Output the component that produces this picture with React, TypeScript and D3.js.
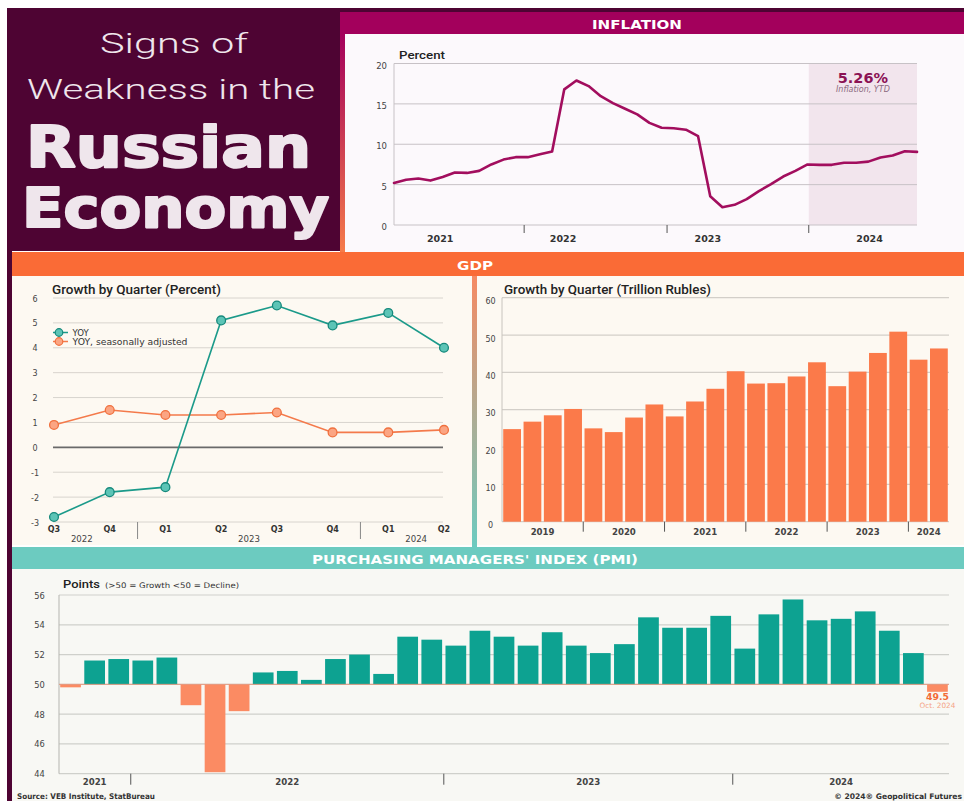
import React from 'react';
import * as d3 from 'd3';

// ---------- DATA ----------
// Inflation, monthly Jan 2021 – Aug 2024 (percent, YoY)
const inflationValues = [
  5.2, 5.6, 5.75, 5.5, 5.95, 6.5, 6.45, 6.7, 7.5, 8.1, 8.4, 8.4,
  8.75, 9.1, 16.8, 17.9, 17.2, 15.95, 15.1, 14.4, 13.7, 12.65, 12.05, 11.98,
  11.8, 11.0, 3.55, 2.2, 2.5, 3.2, 4.2, 5.05, 6.0, 6.7, 7.5, 7.45,
  7.45, 7.7, 7.7, 7.85, 8.35, 8.6, 9.13, 9.05,
];
const inflationTicks = [0, 5, 10, 15, 20];
// year boundaries / labels expressed in month-index units of the series
const inflationYearBoundaries = [10.7, 22.45, 34.1];
const inflationYearLabels = ['2021', '2022', '2023', '2024'];
const inflationYearLabelAt = [3.8, 13.9, 25.8, 39.1];
const inflationYtd = '5.26%';

// GDP growth by quarter (percent)
const gdpQuarters = ['Q3', 'Q4', 'Q1', 'Q2', 'Q3', 'Q4', 'Q1', 'Q2'];
const gdpQuarterYear = ['2022', '2022', '2023', '2023', '2023', '2023', '2024', '2024'];
const gdpYoy = [-2.8, -1.8, -1.6, 5.1, 5.7, 4.9, 5.4, 4.0];
const gdpYoySa = [0.9, 1.5, 1.3, 1.3, 1.4, 0.6, 0.6, 0.7];
const gdpGrowthTicks = [-3, -2, -1, 0, 1, 2, 3, 4, 5, 6];

// GDP by quarter (trillion rubles), 2019 Q1 – 2024 Q2
const gdpNominal = [
  24.8, 26.8, 28.5, 30.2,
  25.0, 24.0, 27.9, 31.4,
  28.2, 32.2, 35.6, 40.3,
  37.0, 37.1, 38.9, 42.7,
  36.3, 40.2, 45.2, 50.9,
  43.4, 46.4,
];
const gdpNominalYears = ['2019', '2020', '2021', '2022', '2023', '2024'];
const gdpNominalYearCounts = [4, 4, 4, 4, 4, 2];
const gdpNominalTicks = [0, 10, 20, 30, 40, 50, 60];

// PMI monthly
const pmiValues = [
  49.8, 51.6, 51.7, 51.6, 51.8, 48.6, 44.1, 48.2, 50.8, 50.9, 50.3, 51.7,
  52.0, 50.7, 53.2, 53.0, 52.6, 53.6, 53.2, 52.6, 53.5, 52.6, 52.1, 52.7,
  54.5, 53.8, 53.8, 54.6, 52.4, 54.7, 55.7, 54.3, 54.4, 54.9, 53.6, 52.1,
  49.5,
];
const pmiYears = ['2021', '2022', '2023', '2024'];
const pmiYearCounts = [3, 13, 12, 9];
const pmiTicks = [44, 46, 48, 50, 52, 54, 56];

// ---------- COLORS ----------
const MAROON = '#4e0433';
const MAGENTA = '#a3005c';
const INF_LINE = '#a20e5e';
const ORANGE_HDR = '#fa6b36';
const GDP_BAR = '#fb7a4a';
const TEAL_HDR = '#6ccbc0';
const TEAL = '#0da291';
const PMI_NEG = '#fb8b63';
const TITLE_TXT = '#efe6ec';

const NUM_FONT = 'DejaVu Sans';

function groupRanges(counts: number[]) {
  const out: { start: number; end: number }[] = [];
  let s = 0;
  counts.forEach((c) => {
    out.push({ start: s, end: s + c - 1 });
    s += c;
  });
  return out;
}

export default function App() {
  // ----- Inflation scales
  const infX = d3.scaleLinear().domain([0, inflationValues.length - 1]).range([394, 917]);
  const infY = d3.scaleLinear().domain([0, 20]).range([225, 63.5]);
  const infLine = d3
    .line<number>()
    .x((_, i) => infX(i))
    .y((d) => infY(d));
  const shadeX0 = infX(inflationYearBoundaries[2]);
  const shadeX1 = infX(inflationValues.length - 1);

  // ----- GDP growth scales
  const gX = d3
    .scalePoint<number>()
    .domain(gdpQuarters.map((_, i) => i))
    .range([54, 444]);
  const gY = d3.scaleLinear().domain([-3, 6]).range([522, 298]);
  const gLine = d3
    .line<number>()
    .x((_, i) => gX(i) as number)
    .y((d) => gY(d));
  const gYears: { year: string; first: number; last: number }[] = [];
  gdpQuarterYear.forEach((y, i) => {
    const last = gYears[gYears.length - 1];
    if (last && last.year === y) last.last = i;
    else gYears.push({ year: y, first: i, last: i });
  });

  // ----- GDP nominal scales
  const nX = d3
    .scaleBand<number>()
    .domain(gdpNominal.map((_, i) => i))
    .range([502, 949])
    .paddingInner(0.125)
    .paddingOuter(0.06);
  const nY = d3.scaleLinear().domain([0, 60]).range([521.7, 297.7]);
  const nGroups = groupRanges(gdpNominalYearCounts);

  // ----- PMI scales
  const pX = d3
    .scaleBand<number>()
    .domain(pmiValues.map((_, i) => i))
    .range([59, 949])
    .paddingInner(0.14)
    .paddingOuter(0.05);
  const pY = d3.scaleLinear().domain([44, 56]).range([773.7, 595]);
  const pGroups = groupRanges(pmiYearCounts);
  const lastI = pmiValues.length - 1;

  return (
    <div style={{ position: 'absolute', left: 0, top: 0, width: 964, height: 801, background: '#fff' }}>
      <svg width={964} height={801} style={{ display: 'block' }} fontFamily={NUM_FONT}>
        <defs>
          <linearGradient id="infEdge" x1="0" y1="0" x2="0" y2="1">
            <stop offset="0" stopColor={MAGENTA} />
            <stop offset="1" stopColor="#f67c4a" />
          </linearGradient>
          <linearGradient id="gdpEdge" x1="0" y1="0" x2="0" y2="1">
            <stop offset="0" stopColor="#f68a63" />
            <stop offset="1" stopColor={TEAL_HDR} />
          </linearGradient>
        </defs>

        {/* ================= TITLE BLOCK ================= */}
        <rect x={7} y={8} width={333} height={243} fill={MAROON} />
        <rect x={7} y={8} width={5} height={793} fill={MAROON} />
        <g fill={TITLE_TXT}>
          <text x={100} y={53} fontFamily="Roboto" fontWeight={300} fontSize={27} textLength={148} lengthAdjust="spacingAndGlyphs">
            Signs of
          </text>
          <text x={27} y={99} fontFamily="Roboto" fontWeight={300} fontSize={27} textLength={288} lengthAdjust="spacingAndGlyphs">
            Weakness in the
          </text>
          <text
            x={26}
            y={167}
            fontFamily="DejaVu Sans"
            fontWeight={700}
            fontSize={57}
            textLength={285}
            lengthAdjust="spacingAndGlyphs"
            stroke={TITLE_TXT}
            strokeWidth={2.2}
            strokeLinejoin="round"
          >
            Russian
          </text>
          <text
            x={22}
            y={227}
            fontFamily="DejaVu Sans"
            fontWeight={700}
            fontSize={55}
            textLength={307}
            lengthAdjust="spacingAndGlyphs"
            stroke={TITLE_TXT}
            strokeWidth={2.2}
            strokeLinejoin="round"
          >
            Economy
          </text>
        </g>

        {/* ================= INFLATION ================= */}
        <rect x={340} y={8} width={624} height={4} fill={MAROON} />
        <rect x={340} y={12} width={624} height={22} fill={MAGENTA} />
        <text x={592} y={29.3} fill="#fff" fontWeight={700} fontSize={13} textLength={90} lengthAdjust="spacingAndGlyphs">
          INFLATION
        </text>
        <rect x={340} y={34} width={5} height={218} fill="url(#infEdge)" />
        <rect x={345} y={34} width={619} height={218} fill="#fcf9fc" />

        <rect x={shadeX0} y={infY(20)} width={shadeX1 - shadeX0} height={infY(0) - infY(20)} fill="#f2e5ed" />
        {inflationTicks.map((t) => (
          <g key={'it' + t}>
            <line x1={394} x2={917} y1={infY(t)} y2={infY(t)} stroke="#c7c2c6" strokeWidth={1} />
            <text x={387} y={infY(t) + 2.5} textAnchor="end" dominantBaseline="middle" fontSize={8.5} fill="#444">
              {t}
            </text>
          </g>
        ))}
        <line x1={394} x2={394} y1={infY(20)} y2={infY(0)} stroke="#c7c2c6" />
        {inflationYearBoundaries.map((b, i) => (
          <line key={'ib' + i} x1={infX(b)} x2={infX(b)} y1={infY(0)} y2={infY(0) + 8} stroke="#555" strokeWidth={1} />
        ))}
        {inflationYearLabels.map((l, i) => (
          <text key={'il' + l} x={infX(inflationYearLabelAt[i])} y={242} textAnchor="middle" fontSize={9.5} fontWeight={700} fill="#333">
            {l}
          </text>
        ))}
        <text x={399} y={59.3} fontFamily="Roboto" fontWeight={500} fontSize={11.5} fill="#222" textLength={46} lengthAdjust="spacingAndGlyphs">
          Percent
        </text>
        <path d={infLine(inflationValues) || ''} fill="none" stroke={INF_LINE} strokeWidth={2.6} strokeLinejoin="round" strokeLinecap="round" />
        <text x={(shadeX0 + shadeX1) / 2} y={83} textAnchor="middle" fontSize={14.5} fontWeight={700} fill="#8b1254">
          {inflationYtd}
        </text>
        <text x={(shadeX0 + shadeX1) / 2} y={92} textAnchor="middle" fontSize={8} fontStyle="italic" fill="#8c6a80">
          Inflation, YTD
        </text>

        {/* ================= GDP ================= */}
        <rect x={12} y={252} width={952} height={24} fill={ORANGE_HDR} />
        <text x={457} y={270} fill="#fff" fontWeight={700} fontSize={12.5} textLength={36} lengthAdjust="spacingAndGlyphs">
          GDP
        </text>
        <rect x={12} y={276} width={952} height={269} fill="#fdf9f2" />
        <rect x={472} y={276} width={5} height={271} fill="url(#gdpEdge)" />

        {/* --- GDP growth (left) --- */}
        <text x={52} y={294} fontFamily="Roboto" fontWeight={500} fontSize={12} fill="#222" textLength={169} lengthAdjust="spacingAndGlyphs">
          Growth by Quarter (Percent)
        </text>
        {gdpGrowthTicks.map((t) => (
          <g key={'gt' + t}>
            <line
              x1={53}
              x2={443}
              y1={gY(t)}
              y2={gY(t)}
              stroke={t === 0 ? '#6a6a6a' : '#d8d4ce'}
              strokeWidth={t === 0 ? 1.8 : 1}
            />
            <text x={35} y={gY(t) + 1} textAnchor="middle" dominantBaseline="middle" fontSize={8} fill="#444">
              {t}
            </text>
          </g>
        ))}
        {gdpQuarters.map((q, i) => (
          <text key={'gq' + i} x={gX(i)} y={532} textAnchor="middle" fontSize={8} fontWeight={700} fill="#333">
            {q}
          </text>
        ))}
        {gYears.map((g, i) => (
          <g key={'gy' + g.year}>
            <text
              x={(((gX(g.first) as number) + (gX(g.last) as number)) / 2)}
              y={541.5}
              textAnchor="middle"
              fontSize={8.6}
              fill="#444"
            >
              {g.year}
            </text>
            {i > 0 && (
              <line
                x1={((gX(g.first) as number) + (gX(g.first - 1) as number)) / 2}
                x2={((gX(g.first) as number) + (gX(g.first - 1) as number)) / 2}
                y1={522}
                y2={539}
                stroke="#888"
              />
            )}
          </g>
        ))}
        <path d={gLine(gdpYoySa) || ''} fill="none" stroke="#f47a4b" strokeWidth={1.6} />
        <path d={gLine(gdpYoy) || ''} fill="none" stroke="#1b9a8a" strokeWidth={1.6} />
        {gdpYoySa.map((v, i) => (
          <circle key={'gs' + i} cx={gX(i)} cy={gY(v)} r={4.4} fill="#fba583" stroke="#f0703e" strokeWidth={1.3} />
        ))}
        {gdpYoy.map((v, i) => (
          <circle key={'gyo' + i} cx={gX(i)} cy={gY(v)} r={4.4} fill="#5cc4b6" stroke="#16897c" strokeWidth={1.3} />
        ))}
        {/* legend */}
        <line x1={53} x2={68} y1={332.5} y2={332.5} stroke="#1b9a8a" strokeWidth={1.5} />
        <circle cx={59} cy={332.5} r={3.8} fill="#5cc4b6" stroke="#16897c" strokeWidth={1.2} />
        <text x={72.5} y={335.5} fontSize={8.6} fill="#333">YOY</text>
        <line x1={53} x2={68} y1={341.5} y2={341.5} stroke="#f47a4b" strokeWidth={1.5} />
        <circle cx={59} cy={341.5} r={3.8} fill="#fba583" stroke="#f0703e" strokeWidth={1.2} />
        <text x={72.5} y={344.5} fontSize={8.6} fill="#333" textLength={115} lengthAdjust="spacingAndGlyphs">
          YOY, seasonally adjusted
        </text>

        {/* --- GDP nominal (right) --- */}
        <text x={504} y={294} fontFamily="Roboto" fontWeight={500} fontSize={12} fill="#222" textLength={207} lengthAdjust="spacingAndGlyphs">
          Growth by Quarter (Trillion Rubles)
        </text>
        {gdpNominalTicks.map((t) => (
          <g key={'nt' + t}>
            <line x1={502} x2={949} y1={nY(t)} y2={nY(t)} stroke="#d3cfc9" strokeWidth={1.2} />
            <text x={490.5} y={nY(t) + 4} textAnchor="middle" dominantBaseline="middle" fontSize={8} fill="#444">
              {t}
            </text>
          </g>
        ))}
        <line x1={502} x2={502} y1={nY(60)} y2={nY(0)} stroke="#c8c4be" />
        {gdpNominal.map((v, i) => (
          <rect key={'nb' + i} x={nX(i)} y={nY(v)} width={nX.bandwidth()} height={nY(0) - nY(v)} fill={GDP_BAR} />
        ))}
        {nGroups.map((g, i) => {
          const cx = ((nX(g.start) as number) + (nX(g.end) as number) + nX.bandwidth()) / 2;
          const bx = (nX(g.start) as number) - (nX.step() - nX.bandwidth()) / 2;
          return (
            <g key={'ng' + i}>
              <text x={cx} y={535} textAnchor="middle" fontSize={8.6} fontWeight={700} fill="#444">
                {gdpNominalYears[i]}
              </text>
              {i > 0 && <line x1={bx} x2={bx} y1={nY(0)} y2={nY(0) + 10} stroke="#555" />}
            </g>
          );
        })}

        {/* ================= PMI ================= */}
        <rect x={12} y={547} width={952} height={22} fill={TEAL_HDR} />
        <text x={312} y={564.3} fill="#fff" fontWeight={700} fontSize={13} textLength={326} lengthAdjust="spacingAndGlyphs">
          PURCHASING MANAGERS' INDEX (PMI)
        </text>
        <rect x={12} y={569} width={952} height={232} fill="#f8f8f4" />

        <text x={63} y={588} fontFamily="Roboto" fontWeight={500} fontSize={11.5} fill="#222" textLength={37} lengthAdjust="spacingAndGlyphs">
          Points
        </text>
        <text x={105} y={588} fontSize={7.6} fill="#333" textLength={134} lengthAdjust="spacingAndGlyphs">
          {'(>50 = Growth <50 = Decline)'}
        </text>
        {pmiTicks.map((t) => (
          <g key={'pt' + t}>
            <line x1={59} x2={949} y1={pY(t)} y2={pY(t)} stroke="#cfd0cb" strokeWidth={1.2} />
            <text x={39.5} y={pY(t) + 1} textAnchor="middle" dominantBaseline="middle" fontSize={8.3} fill="#444">
              {t}
            </text>
          </g>
        ))}
        <line x1={59} x2={59} y1={pY(56)} y2={pY(44)} stroke="#b5b5b0" />
        {pmiValues.map((v, i) => (
          <rect
            key={'pb' + i}
            x={pX(i)}
            y={pY(Math.max(v, 50))}
            width={pX.bandwidth()}
            height={Math.abs(pY(v) - pY(50))}
            fill={v >= 50 ? TEAL : PMI_NEG}
          />
        ))}
        <line x1={59} x2={949} y1={pY(50)} y2={pY(50)} stroke="#e7967d" strokeWidth={0.9} />
        {pGroups.map((g, i) => {
          const cx = ((pX(g.start) as number) + (pX(g.end) as number) + pX.bandwidth()) / 2;
          const bx = (pX(g.start) as number) - (pX.step() - pX.bandwidth()) / 2;
          return (
            <g key={'pg' + i}>
              <text x={cx} y={785} textAnchor="middle" fontSize={8.6} fontWeight={700} fill="#444">
                {pmiYears[i]}
              </text>
              {i > 0 && <line x1={bx} x2={bx} y1={pY(44)} y2={pY(44) + 11} stroke="#555" />}
            </g>
          );
        })}
        <text
          x={(pX(lastI) as number) + pX.bandwidth() / 2}
          y={700.3}
          textAnchor="middle"
          fontSize={9.3}
          fontWeight={700}
          fill="#f26a35"
        >
          {pmiValues[lastI].toFixed(1)}
        </text>
        <text
          x={(pX(lastI) as number) + pX.bandwidth() / 2}
          y={708}
          textAnchor="middle"
          fontSize={7.3}
          fill="#f5a486"
        >
          Oct. 2024
        </text>

        {/* footer */}
        <text x={17} y={798.5} fontSize={7.8} fontWeight={700} fill="#333" textLength={138} lengthAdjust="spacingAndGlyphs">
          Source: VEB Institute, StatBureau
        </text>
        <text x={962} y={798.5} textAnchor="end" fontSize={7.6} fontWeight={700} fill="#333">
          © 2024® Geopolitical Futures
        </text>
      </svg>
    </div>
  );
}
